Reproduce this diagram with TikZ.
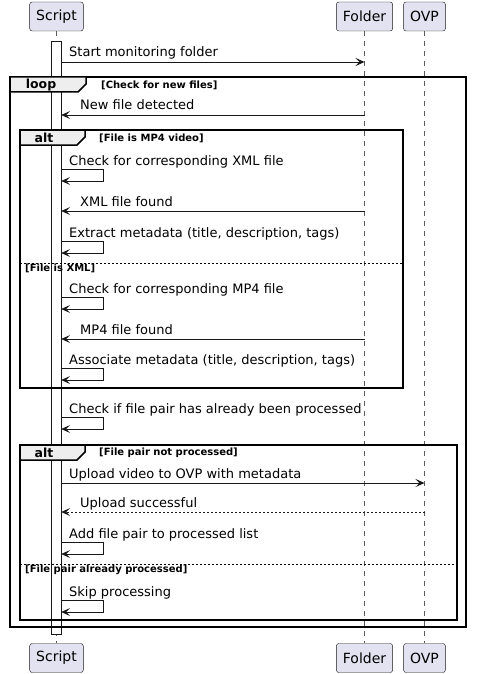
\documentclass[tikz,border=0pt]{standalone}
\usepackage{fontspec}
\setmainfont{DejaVu Sans}
\usetikzlibrary{arrows.meta}
\definecolor{partfill}{HTML}{E2E2F0}
\definecolor{umlline}{HTML}{181818}
\definecolor{tabfill}{HTML}{EEEEEE}
\tikzset{
  part/.style={draw=umlline, fill=partfill, rounded corners=2.5pt, minimum height=29pt, inner xsep=6.5pt, font=\fontsize{14}{16}\selectfont},
  life/.style={draw=umlline!70, dash pattern=on 5pt off 5pt, line width=0.6pt},
  actbar/.style={draw=umlline, fill=white, minimum width=10pt, minimum height=593pt, inner sep=0pt},
  msg/.style={draw=umlline, line width=0.8pt, -{Stealth[length=9pt,width=8pt,inset=4pt]}},
  reply/.style={msg, dash pattern=on 2pt off 2pt},
  lbl/.style={anchor=base west, inner sep=0pt, font=\fontsize{13}{15}\selectfont},
  grpframe/.style={draw=black, line width=1.5pt},
  grptab/.style={draw=black, line width=1.5pt, fill=tabfill},
  kw/.style={inner sep=0pt, font=\bfseries\fontsize{12.5}{15}\selectfont},
  guard/.style={anchor=west, inner sep=0pt, font=\bfseries\fontsize{10}{12}\selectfont},
  elsesep/.style={draw=black, line width=0.8pt, dash pattern=on 2pt off 2pt},
}
\begin{document}
\begin{tikzpicture}[x=1pt,y=-1pt]
  \useasboundingbox (0,0) rectangle (477,674);

  % Participants
  \node[part] (topScript) at (56.5,16.5) {Script};
  \node[part] (topFolder) at (364.5,16.5) {Folder};
  \node[part] (topOVP) at (424.5,16.5) {OVP};
  \node[part] (botScript) at (56.5,658) {Script};
  \node[part] (botFolder) at (364.5,658) {Folder};
  \node[part] (botOVP) at (424.5,658) {OVP};

  % Lifelines
  \draw[life] (topScript) -- (botScript);
  \draw[life] (topFolder) -- (botFolder);
  \draw[life] (topOVP) -- (botOVP);

  % Activation
  \node[actbar] (act) at (56,337.5) {};

  % loop frame
  \draw[grpframe] (10,77) rectangle (466,627);
  \draw[grptab] (10,77) -- (86,77) -- (86,84) -- (78,92) -- (10,92) -- cycle;
  \node[kw] (loopkw) at (41,85) {loop};
  \node[guard] (loopguard) at (101,85) {[Check for new files]};

  % first alt frame
  \draw[grpframe] (20,130) rectangle (403,388);
  \draw[grptab] (20,130) -- (85,130) -- (85,137) -- (77,145) -- (20,145) -- cycle;
  \node[kw] (altkwA) at (44,138) {alt};
  \node[guard] (altguardA) at (99,138) {[File is MP4 video]};
  \draw[elsesep] (20,263) -- (403,263);
  \node[guard] (elseguardA) at (25,268) {[File is XML]};

  % second alt frame
  \draw[grpframe] (20,445) rectangle (457,620);
  \draw[grptab] (20,445) -- (85,445) -- (85,452) -- (77,460) -- (20,460) -- cycle;
  \node[kw] (altkwB) at (44,453) {alt};
  \node[guard] (altguardB) at (99,453) {[File pair not processed]};
  \draw[elsesep] (20,564) -- (457,564);
  \node[guard] (elseguardB) at (25,570) {[File pair already processed]};

  % Messages
  \node[lbl] (m1) at (69,57) {Start monitoring folder};
  \draw[msg] (act.east |- 0,62) -- (topFolder |- 0,62);

  \node[lbl] (m2) at (80,110) {New file detected};
  \draw[msg] (topFolder |- 0,115) -- (act.east |- 0,115);

  \node[lbl] (m3) at (69,165) {Check for corresponding XML file};
  \draw[msg] (act.east |- 0,169) -- ++(42,0) -- ++(0,12) -- (act.east |- 0,181);

  \node[lbl] (m4) at (80,206) {XML file found};
  \draw[msg] (topFolder |- 0,211) -- (act.east |- 0,211);

  \node[lbl] (m5) at (69,237) {Extract metadata (title, description, tags)};
  \draw[msg] (act.east |- 0,241) -- ++(42,0) -- ++(0,12) -- (act.east |- 0,253);

  \node[lbl] (m6) at (69,293) {Check for corresponding MP4 file};
  \draw[msg] (act.east |- 0,297) -- ++(42,0) -- ++(0,12) -- (act.east |- 0,309);

  \node[lbl] (m7) at (80,334) {MP4 file found};
  \draw[msg] (topFolder |- 0,339) -- (act.east |- 0,339);

  \node[lbl] (m8) at (69,364) {Associate metadata (title, description, tags)};
  \draw[msg] (act.east |- 0,368) -- ++(42,0) -- ++(0,12) -- (act.east |- 0,380);

  \node[lbl] (m9) at (69,413) {Check if file pair has already been processed};
  \draw[msg] (act.east |- 0,417) -- ++(42,0) -- ++(0,12) -- (act.east |- 0,429);

  \node[lbl] (m10) at (69,478) {Upload video to OVP with metadata};
  \draw[msg] (act.east |- 0,483) -- (topOVP |- 0,483);

  \node[lbl] (m11) at (80,507) {Upload successful};
  \draw[reply] (topOVP |- 0,512) -- (act.east |- 0,512);

  \node[lbl] (m12) at (69,538) {Add file pair to processed list};
  \draw[msg] (act.east |- 0,542) -- ++(42,0) -- ++(0,12) -- (act.east |- 0,554);

  \node[lbl] (m13) at (69,596) {Skip processing};
  \draw[msg] (act.east |- 0,600) -- ++(42,0) -- ++(0,12) -- (act.east |- 0,612);
\end{tikzpicture}
\end{document}
